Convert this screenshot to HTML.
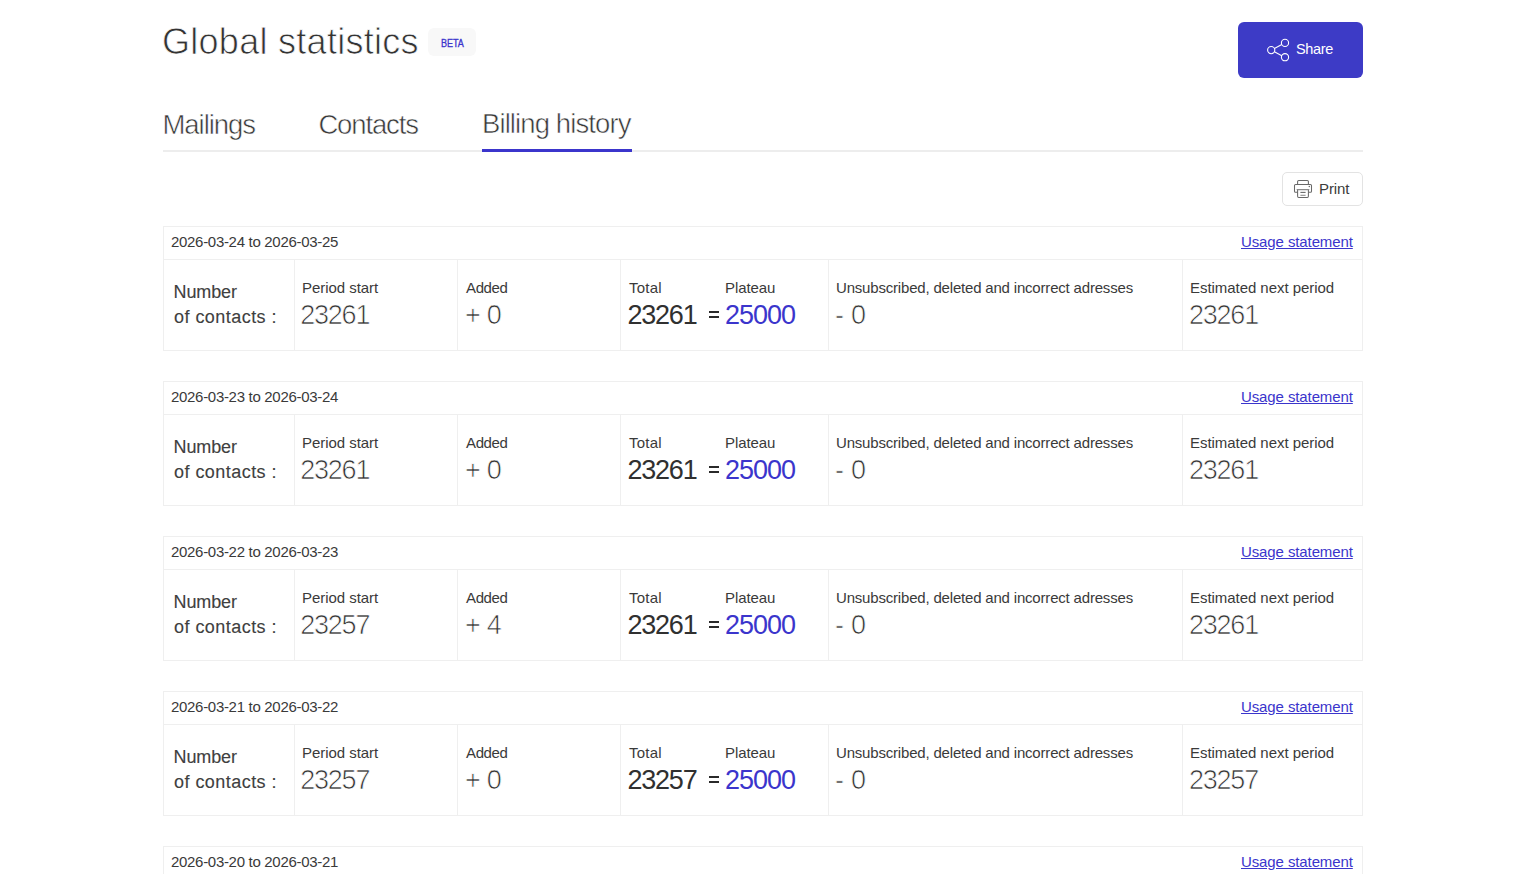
<!DOCTYPE html>
<html><head><meta charset="utf-8"><style>
html,body{margin:0;padding:0;background:#fff;width:1514px;height:874px;overflow:hidden}
body{position:relative;font-family:"Liberation Sans",sans-serif}
.t{position:absolute;line-height:1;white-space:nowrap}
.box{position:absolute;box-sizing:content-box}
</style></head><body>
<div class="t" style="left:162.00px;top:23.83px;font-size:36px;color:#333333;font-weight:400;letter-spacing:0.281px;-webkit-text-stroke:0.75px #fff;">Global statistics</div>
<div class="box" style="left:428px;top:28px;width:48px;height:28px;background:#f8f8f8;border-radius:6px"></div>
<div class="t" style="left:441.30px;top:37.94px;font-size:11px;color:#3b35cc;font-weight:400;letter-spacing:0.000px;-webkit-text-stroke:0.35px #3b35cc;transform:scaleX(0.82);transform-origin:0 0;">BETA</div>
<div class="box" style="left:1238px;top:22px;width:125px;height:56px;background:#3d3bc6;border-radius:6px"></div>
<svg class="box" style="left:1262px;top:34px" width="34" height="32" viewBox="1262 34 34 32">
<g fill="none" stroke="#fff" stroke-width="1.1">
<circle cx="1285" cy="42.9" r="3.6"/><circle cx="1271.2" cy="50.1" r="3.6"/><circle cx="1285" cy="57.2" r="3.6"/>
<line x1="1274.4" y1="48.4" x2="1281.8" y2="44.6"/><line x1="1274.4" y1="51.8" x2="1281.8" y2="55.7"/>
</g></svg>
<div class="t" style="left:1296.00px;top:41.53px;font-size:14.5px;color:#ffffff;font-weight:400;letter-spacing:-0.350px;">Share</div>
<div class="t" style="left:162.50px;top:111.42px;font-size:27.5px;color:#383838;font-weight:400;letter-spacing:-1.058px;-webkit-text-stroke:0.55px #fff;">Mailings</div>
<div class="t" style="left:318.40px;top:110.82px;font-size:27.5px;color:#383838;font-weight:400;letter-spacing:-1.143px;-webkit-text-stroke:0.55px #fff;">Contacts</div>
<div class="t" style="left:482.00px;top:109.52px;font-size:27.5px;color:#383838;font-weight:400;letter-spacing:-0.901px;-webkit-text-stroke:0.55px #fff;">Billing history</div>
<div class="box" style="left:163px;top:150px;width:1200px;height:2px;background:#ededed"></div>
<div class="box" style="left:482px;top:149px;width:150px;height:3px;background:#3b35cc"></div>
<div class="box" style="left:1282px;top:172px;width:79px;height:32px;border:1px solid #e3e3e3;border-radius:5px;background:#fff"></div>
<svg class="box" style="left:1290px;top:176px" width="26" height="26" viewBox="0 0 26 26">
<g fill="none" stroke="#686868" stroke-width="1.05" stroke-linejoin="round">
<path d="M7.6 8.5V5.6Q7.6 4.5 8.7 4.5H17.3Q18.4 4.5 18.4 5.6V8.5"/>
<path d="M7.6 16.3H5.6Q4.5 16.3 4.5 15.2V9.6Q4.5 8.5 5.6 8.5H20.4Q21.5 8.5 21.5 9.6V15.2Q21.5 16.3 20.4 16.3H18.4"/>
<path d="M7.6 13.6V20.3Q7.6 21.4 8.7 21.4H17.3Q18.4 21.4 18.4 20.3V13.6"/>
<path d="M10.4 16.4H15.6" stroke-width="1.1"/>
<path d="M10.4 19.3H15.6" stroke="#8c8c8c" stroke-width="1.1"/>
</g>
<path d="M6.2 12.9H19.8L18.6 14.3H7.4Z" fill="#8a8a8a"/>
<circle cx="19.3" cy="10.4" r="0.75" fill="#686868"/></svg>
<div class="t" style="left:1319.00px;top:180.85px;font-size:15px;color:#3c3c3c;font-weight:400;letter-spacing:-0.125px;">Print</div>
<div class="box" style="left:163px;top:226px;width:1198px;height:123px;border:1px solid #efefef"></div>
<div class="box" style="left:164px;top:259px;width:1198px;height:1px;background:#efefef"></div>
<div class="box" style="left:294px;top:259px;width:1px;height:92px;background:#efefef"></div>
<div class="box" style="left:457px;top:259px;width:1px;height:92px;background:#efefef"></div>
<div class="box" style="left:620px;top:259px;width:1px;height:92px;background:#efefef"></div>
<div class="box" style="left:828px;top:259px;width:1px;height:92px;background:#efefef"></div>
<div class="box" style="left:1182px;top:259px;width:1px;height:92px;background:#efefef"></div>
<div class="t" style="left:171.00px;top:234.00px;font-size:15px;color:#3a3a3a;font-weight:400;letter-spacing:-0.304px;">2026-03-24 to 2026-03-25</div>
<div class="t" style="left:1241.00px;top:234.30px;font-size:15px;color:#3b35cc;font-weight:400;letter-spacing:-0.107px;text-decoration:underline;">Usage statement</div>
<div class="t" style="left:173.50px;top:283.01px;font-size:18px;color:#404040;font-weight:400;letter-spacing:-0.100px;-webkit-text-stroke:0.12px #404040;">Number</div>
<div class="t" style="left:174.00px;top:308.06px;font-size:18px;color:#404040;font-weight:400;letter-spacing:0.455px;-webkit-text-stroke:0.12px #404040;">of contacts :</div>
<div class="t" style="left:302.00px;top:280.30px;font-size:15px;color:#3a3a3a;font-weight:400;letter-spacing:-0.045px;">Period start</div>
<div class="t" style="left:300.15px;top:301.89px;font-size:27px;color:#333333;font-weight:400;letter-spacing:-1.200px;-webkit-text-stroke:0.7px #fff;">23261</div>
<div class="t" style="left:466.00px;top:280.30px;font-size:15px;color:#3a3a3a;font-weight:400;letter-spacing:-0.375px;">Added</div>
<div class="t" style="left:465.00px;top:302.39px;font-size:27px;color:#333333;font-weight:400;letter-spacing:-0.750px;-webkit-text-stroke:0.7px #fff;">+ 0</div>
<div class="t" style="left:629.00px;top:280.30px;font-size:15px;color:#3a3a3a;font-weight:400;letter-spacing:0.250px;">Total</div>
<div class="t" style="left:725.00px;top:280.30px;font-size:15px;color:#3a3a3a;font-weight:400;letter-spacing:-0.084px;">Plateau</div>
<div class="t" style="left:627.40px;top:302.14px;font-size:27px;color:#303030;font-weight:400;letter-spacing:-1.200px;">23261</div>
<div class="box" style="left:708.7px;top:311px;width:10.8px;height:2px;background:#2a2a2a"></div>
<div class="box" style="left:708.7px;top:316px;width:10.8px;height:2px;background:#2a2a2a"></div>
<div class="t" style="left:725.00px;top:302.14px;font-size:27px;color:#3b35cc;font-weight:400;letter-spacing:-1.000px;">25000</div>
<div class="t" style="left:836.00px;top:280.30px;font-size:15px;color:#3a3a3a;font-weight:400;letter-spacing:-0.187px;">Unsubscribed, deleted and incorrect adresses</div>
<div class="t" style="left:835.00px;top:302.44px;font-size:27px;color:#333333;font-weight:400;letter-spacing:-0.300px;-webkit-text-stroke:0.7px #fff;">- 0</div>
<div class="t" style="left:1190.00px;top:280.30px;font-size:15px;color:#3a3a3a;font-weight:400;letter-spacing:-0.050px;">Estimated next period</div>
<div class="t" style="left:1188.90px;top:301.89px;font-size:27px;color:#333333;font-weight:400;letter-spacing:-1.200px;-webkit-text-stroke:0.7px #fff;">23261</div>
<div class="box" style="left:163px;top:381px;width:1198px;height:123px;border:1px solid #efefef"></div>
<div class="box" style="left:164px;top:414px;width:1198px;height:1px;background:#efefef"></div>
<div class="box" style="left:294px;top:414px;width:1px;height:92px;background:#efefef"></div>
<div class="box" style="left:457px;top:414px;width:1px;height:92px;background:#efefef"></div>
<div class="box" style="left:620px;top:414px;width:1px;height:92px;background:#efefef"></div>
<div class="box" style="left:828px;top:414px;width:1px;height:92px;background:#efefef"></div>
<div class="box" style="left:1182px;top:414px;width:1px;height:92px;background:#efefef"></div>
<div class="t" style="left:171.00px;top:389.00px;font-size:15px;color:#3a3a3a;font-weight:400;letter-spacing:-0.304px;">2026-03-23 to 2026-03-24</div>
<div class="t" style="left:1241.00px;top:389.30px;font-size:15px;color:#3b35cc;font-weight:400;letter-spacing:-0.107px;text-decoration:underline;">Usage statement</div>
<div class="t" style="left:173.50px;top:438.01px;font-size:18px;color:#404040;font-weight:400;letter-spacing:-0.100px;-webkit-text-stroke:0.12px #404040;">Number</div>
<div class="t" style="left:174.00px;top:463.06px;font-size:18px;color:#404040;font-weight:400;letter-spacing:0.455px;-webkit-text-stroke:0.12px #404040;">of contacts :</div>
<div class="t" style="left:302.00px;top:435.30px;font-size:15px;color:#3a3a3a;font-weight:400;letter-spacing:-0.045px;">Period start</div>
<div class="t" style="left:300.15px;top:456.89px;font-size:27px;color:#333333;font-weight:400;letter-spacing:-1.200px;-webkit-text-stroke:0.7px #fff;">23261</div>
<div class="t" style="left:466.00px;top:435.30px;font-size:15px;color:#3a3a3a;font-weight:400;letter-spacing:-0.375px;">Added</div>
<div class="t" style="left:465.00px;top:457.39px;font-size:27px;color:#333333;font-weight:400;letter-spacing:-0.750px;-webkit-text-stroke:0.7px #fff;">+ 0</div>
<div class="t" style="left:629.00px;top:435.30px;font-size:15px;color:#3a3a3a;font-weight:400;letter-spacing:0.250px;">Total</div>
<div class="t" style="left:725.00px;top:435.30px;font-size:15px;color:#3a3a3a;font-weight:400;letter-spacing:-0.084px;">Plateau</div>
<div class="t" style="left:627.40px;top:457.14px;font-size:27px;color:#303030;font-weight:400;letter-spacing:-1.200px;">23261</div>
<div class="box" style="left:708.7px;top:466px;width:10.8px;height:2px;background:#2a2a2a"></div>
<div class="box" style="left:708.7px;top:471px;width:10.8px;height:2px;background:#2a2a2a"></div>
<div class="t" style="left:725.00px;top:457.14px;font-size:27px;color:#3b35cc;font-weight:400;letter-spacing:-1.000px;">25000</div>
<div class="t" style="left:836.00px;top:435.30px;font-size:15px;color:#3a3a3a;font-weight:400;letter-spacing:-0.187px;">Unsubscribed, deleted and incorrect adresses</div>
<div class="t" style="left:835.00px;top:457.44px;font-size:27px;color:#333333;font-weight:400;letter-spacing:-0.300px;-webkit-text-stroke:0.7px #fff;">- 0</div>
<div class="t" style="left:1190.00px;top:435.30px;font-size:15px;color:#3a3a3a;font-weight:400;letter-spacing:-0.050px;">Estimated next period</div>
<div class="t" style="left:1188.90px;top:456.89px;font-size:27px;color:#333333;font-weight:400;letter-spacing:-1.200px;-webkit-text-stroke:0.7px #fff;">23261</div>
<div class="box" style="left:163px;top:536px;width:1198px;height:123px;border:1px solid #efefef"></div>
<div class="box" style="left:164px;top:569px;width:1198px;height:1px;background:#efefef"></div>
<div class="box" style="left:294px;top:569px;width:1px;height:92px;background:#efefef"></div>
<div class="box" style="left:457px;top:569px;width:1px;height:92px;background:#efefef"></div>
<div class="box" style="left:620px;top:569px;width:1px;height:92px;background:#efefef"></div>
<div class="box" style="left:828px;top:569px;width:1px;height:92px;background:#efefef"></div>
<div class="box" style="left:1182px;top:569px;width:1px;height:92px;background:#efefef"></div>
<div class="t" style="left:171.00px;top:544.00px;font-size:15px;color:#3a3a3a;font-weight:400;letter-spacing:-0.304px;">2026-03-22 to 2026-03-23</div>
<div class="t" style="left:1241.00px;top:544.30px;font-size:15px;color:#3b35cc;font-weight:400;letter-spacing:-0.107px;text-decoration:underline;">Usage statement</div>
<div class="t" style="left:173.50px;top:593.01px;font-size:18px;color:#404040;font-weight:400;letter-spacing:-0.100px;-webkit-text-stroke:0.12px #404040;">Number</div>
<div class="t" style="left:174.00px;top:618.06px;font-size:18px;color:#404040;font-weight:400;letter-spacing:0.455px;-webkit-text-stroke:0.12px #404040;">of contacts :</div>
<div class="t" style="left:302.00px;top:590.30px;font-size:15px;color:#3a3a3a;font-weight:400;letter-spacing:-0.045px;">Period start</div>
<div class="t" style="left:300.15px;top:611.89px;font-size:27px;color:#333333;font-weight:400;letter-spacing:-1.200px;-webkit-text-stroke:0.7px #fff;">23257</div>
<div class="t" style="left:466.00px;top:590.30px;font-size:15px;color:#3a3a3a;font-weight:400;letter-spacing:-0.375px;">Added</div>
<div class="t" style="left:465.00px;top:612.39px;font-size:27px;color:#333333;font-weight:400;letter-spacing:-0.750px;-webkit-text-stroke:0.7px #fff;">+ 4</div>
<div class="t" style="left:629.00px;top:590.30px;font-size:15px;color:#3a3a3a;font-weight:400;letter-spacing:0.250px;">Total</div>
<div class="t" style="left:725.00px;top:590.30px;font-size:15px;color:#3a3a3a;font-weight:400;letter-spacing:-0.084px;">Plateau</div>
<div class="t" style="left:627.40px;top:612.14px;font-size:27px;color:#303030;font-weight:400;letter-spacing:-1.200px;">23261</div>
<div class="box" style="left:708.7px;top:621px;width:10.8px;height:2px;background:#2a2a2a"></div>
<div class="box" style="left:708.7px;top:626px;width:10.8px;height:2px;background:#2a2a2a"></div>
<div class="t" style="left:725.00px;top:612.14px;font-size:27px;color:#3b35cc;font-weight:400;letter-spacing:-1.000px;">25000</div>
<div class="t" style="left:836.00px;top:590.30px;font-size:15px;color:#3a3a3a;font-weight:400;letter-spacing:-0.187px;">Unsubscribed, deleted and incorrect adresses</div>
<div class="t" style="left:835.00px;top:612.44px;font-size:27px;color:#333333;font-weight:400;letter-spacing:-0.300px;-webkit-text-stroke:0.7px #fff;">- 0</div>
<div class="t" style="left:1190.00px;top:590.30px;font-size:15px;color:#3a3a3a;font-weight:400;letter-spacing:-0.050px;">Estimated next period</div>
<div class="t" style="left:1188.90px;top:611.89px;font-size:27px;color:#333333;font-weight:400;letter-spacing:-1.200px;-webkit-text-stroke:0.7px #fff;">23261</div>
<div class="box" style="left:163px;top:691px;width:1198px;height:123px;border:1px solid #efefef"></div>
<div class="box" style="left:164px;top:724px;width:1198px;height:1px;background:#efefef"></div>
<div class="box" style="left:294px;top:724px;width:1px;height:92px;background:#efefef"></div>
<div class="box" style="left:457px;top:724px;width:1px;height:92px;background:#efefef"></div>
<div class="box" style="left:620px;top:724px;width:1px;height:92px;background:#efefef"></div>
<div class="box" style="left:828px;top:724px;width:1px;height:92px;background:#efefef"></div>
<div class="box" style="left:1182px;top:724px;width:1px;height:92px;background:#efefef"></div>
<div class="t" style="left:171.00px;top:699.00px;font-size:15px;color:#3a3a3a;font-weight:400;letter-spacing:-0.304px;">2026-03-21 to 2026-03-22</div>
<div class="t" style="left:1241.00px;top:699.30px;font-size:15px;color:#3b35cc;font-weight:400;letter-spacing:-0.107px;text-decoration:underline;">Usage statement</div>
<div class="t" style="left:173.50px;top:748.01px;font-size:18px;color:#404040;font-weight:400;letter-spacing:-0.100px;-webkit-text-stroke:0.12px #404040;">Number</div>
<div class="t" style="left:174.00px;top:773.06px;font-size:18px;color:#404040;font-weight:400;letter-spacing:0.455px;-webkit-text-stroke:0.12px #404040;">of contacts :</div>
<div class="t" style="left:302.00px;top:745.30px;font-size:15px;color:#3a3a3a;font-weight:400;letter-spacing:-0.045px;">Period start</div>
<div class="t" style="left:300.15px;top:766.89px;font-size:27px;color:#333333;font-weight:400;letter-spacing:-1.200px;-webkit-text-stroke:0.7px #fff;">23257</div>
<div class="t" style="left:466.00px;top:745.30px;font-size:15px;color:#3a3a3a;font-weight:400;letter-spacing:-0.375px;">Added</div>
<div class="t" style="left:465.00px;top:767.39px;font-size:27px;color:#333333;font-weight:400;letter-spacing:-0.750px;-webkit-text-stroke:0.7px #fff;">+ 0</div>
<div class="t" style="left:629.00px;top:745.30px;font-size:15px;color:#3a3a3a;font-weight:400;letter-spacing:0.250px;">Total</div>
<div class="t" style="left:725.00px;top:745.30px;font-size:15px;color:#3a3a3a;font-weight:400;letter-spacing:-0.084px;">Plateau</div>
<div class="t" style="left:627.40px;top:767.14px;font-size:27px;color:#303030;font-weight:400;letter-spacing:-1.200px;">23257</div>
<div class="box" style="left:708.7px;top:776px;width:10.8px;height:2px;background:#2a2a2a"></div>
<div class="box" style="left:708.7px;top:781px;width:10.8px;height:2px;background:#2a2a2a"></div>
<div class="t" style="left:725.00px;top:767.14px;font-size:27px;color:#3b35cc;font-weight:400;letter-spacing:-1.000px;">25000</div>
<div class="t" style="left:836.00px;top:745.30px;font-size:15px;color:#3a3a3a;font-weight:400;letter-spacing:-0.187px;">Unsubscribed, deleted and incorrect adresses</div>
<div class="t" style="left:835.00px;top:767.44px;font-size:27px;color:#333333;font-weight:400;letter-spacing:-0.300px;-webkit-text-stroke:0.7px #fff;">- 0</div>
<div class="t" style="left:1190.00px;top:745.30px;font-size:15px;color:#3a3a3a;font-weight:400;letter-spacing:-0.050px;">Estimated next period</div>
<div class="t" style="left:1188.90px;top:766.89px;font-size:27px;color:#333333;font-weight:400;letter-spacing:-1.200px;-webkit-text-stroke:0.7px #fff;">23257</div>
<div class="box" style="left:163px;top:846px;width:1198px;height:123px;border:1px solid #efefef"></div>
<div class="box" style="left:164px;top:879px;width:1198px;height:1px;background:#efefef"></div>
<div class="box" style="left:294px;top:879px;width:1px;height:92px;background:#efefef"></div>
<div class="box" style="left:457px;top:879px;width:1px;height:92px;background:#efefef"></div>
<div class="box" style="left:620px;top:879px;width:1px;height:92px;background:#efefef"></div>
<div class="box" style="left:828px;top:879px;width:1px;height:92px;background:#efefef"></div>
<div class="box" style="left:1182px;top:879px;width:1px;height:92px;background:#efefef"></div>
<div class="t" style="left:171.00px;top:854.00px;font-size:15px;color:#3a3a3a;font-weight:400;letter-spacing:-0.304px;">2026-03-20 to 2026-03-21</div>
<div class="t" style="left:1241.00px;top:854.30px;font-size:15px;color:#3b35cc;font-weight:400;letter-spacing:-0.107px;text-decoration:underline;">Usage statement</div>
</body></html>
